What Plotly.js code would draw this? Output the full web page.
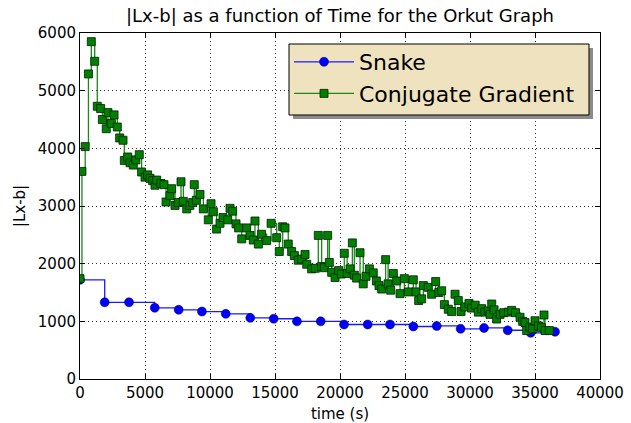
<!DOCTYPE html>
<html>
<head>
<meta charset="utf-8">
<script src="https://cdn.plot.ly/plotly-3.0.1.min.js"></script>
<style>html,body{margin:0;padding:0;background:#fff;}#chart{width:631px;height:423px;}</style>
</head>
<body>
<div id="chart"></div>
<script>
// Snake series
var snakeTime = [0, 1900, 3770, 5750, 7590, 9380, 11210, 13100, 14900, 16690, 18520, 20310, 22130, 23850, 25640, 27440, 29280, 31080, 32900, 34670, 36540];
var snakeErr  = [1720, 1330, 1330, 1235, 1200, 1170, 1130, 1060, 1045, 1000, 1000, 945, 945, 945, 910, 920, 870, 885, 845, 800, 820];

// Conjugate Gradient series
var cgTime = [0, 150, 400, 650, 870, 1130, 1330, 1590, 1720, 2020, 2150, 2410, 2620, 2870, 3050, 3310, 3410, 3670, 3850, 4100,
  4300, 4560, 4740, 5000, 5200, 5380, 5590, 5770, 5900, 6230, 6460, 6620, 6920, 7050, 7310, 7550, 7770, 7950, 8210, 8450,
  8670, 8790, 8950, 9230, 9490, 9870, 10080, 10260, 10510, 10770, 11000, 11360, 11540, 11740, 12000, 12200, 12440, 12820, 13080, 13330,
  13460, 13720, 13970, 14360, 14700, 15130, 15330, 15590, 15770, 16020, 16280, 16490, 16790, 17050, 17310, 17440, 17820, 18100, 18330, 18590,
  18800, 19050, 19180, 19360, 19620, 19900, 20100, 20330, 20550, 20770, 20950, 21100, 21280, 21540, 21790, 22000, 22260, 22560, 22800, 23000,
  23210, 23510, 23700, 23900, 24100, 24360, 24620, 24950, 25260, 25640, 25850, 26050, 26280, 26410, 26790, 27050, 27360, 27600, 27820, 28030,
  28330, 28590, 28850, 29100, 29310, 29600, 29920, 30130, 30400, 30640, 30900, 31150, 31400, 31540, 31670, 31850, 32050, 32310, 32600, 32950,
  33210, 33500, 33850, 34050, 34230, 34360, 34600, 34800, 35000, 35260, 35500, 35690, 35770, 36100];
var cgErr = [1740, 3600, 4030, 5290, 5850, 5510, 4730, 4690, 4500, 4340, 4620, 4430, 4580, 4370, 4180, 4140, 3790, 3850, 3750, 3710,
  3800, 3890, 3590, 3500, 3540, 3480, 3440, 3360, 3450, 3390, 3370, 3070, 3180, 3300, 3010, 3060, 3420, 3080, 2950, 3010,
  3060, 3370, 3100, 3200, 2950, 2760, 3040, 2900, 2600, 2700, 2800, 2760, 2960, 2910, 2690, 2620, 2430, 2620, 2490, 2410,
  2740, 2340, 2510, 2400, 2700, 2450, 2210, 2640, 2620, 2340, 2210, 2140, 2060, 2080, 2160, 1990, 1910, 1920, 2490, 1950,
  1930, 2490, 2020, 1850, 1760, 1880, 1820, 2180, 1830, 1910, 2360, 1800, 1750, 2190, 1650, 1780, 1910, 1840, 1700, 1620,
  1560, 2070, 1650, 1540, 1830, 1700, 1480, 1740, 1510, 1720, 1510, 1360, 1390, 1620, 1590, 1470, 1690, 1500, 1530, 1290,
  1210, 1170, 1470, 1360, 1170, 1250, 1310, 1230, 1280, 1160, 1220, 1160, 1180, 1120, 1300, 1200, 1040, 1120, 1150, 1160,
  1190, 1150, 1070, 1000, 980, 840, 900, 870, 1010, 920, 890, 1110, 840, 840];

var xTicks = [0, 5000, 10000, 15000, 20000, 25000, 30000, 35000, 40000];
var yTicks = [0, 1000, 2000, 3000, 4000, 5000, 6000];

var FONT = 'DejaVu Sans, sans-serif';
var traces = [
  {x: snakeTime, y: snakeErr, name: 'Snake', type: 'scatter', mode: 'lines+markers',
   line: {color: '#1a1aff', width: 1.3, shape: 'hv'},
   marker: {symbol: 'circle', size: 9, color: '#0000ff', line: {color: '#000044', width: 0.5}}},
  {x: cgTime, y: cgErr, name: 'Conjugate Gradient', type: 'scatter', mode: 'lines+markers',
   line: {color: '#1a8a1a', width: 1.3, shape: 'hv'},
   marker: {symbol: 'square', size: 8, color: '#008000', line: {color: '#002000', width: 0.8}}}
];

function px2x(p){ return (p - 80) / 520; }
function py2y(p){ return (379 - p) / 346; }

var axisCommon = {
  showline: true, linecolor: '#000', linewidth: 1, mirror: 'ticks',
  ticks: 'inside', ticklen: 5, tickwidth: 1, tickcolor: '#000',
  showgrid: true, gridcolor: '#333', gridwidth: 1, griddash: '1px,3px',
  zeroline: false, tickfont: {family: FONT, size: 15, color: '#000'}
};

var layout = {
  width: 631, height: 423,
  margin: {l: 80, r: 31, t: 33, b: 44, pad: 0},
  paper_bgcolor: '#fff', plot_bgcolor: '#fff',
  title: {text: '|Lx-b| as a function of Time for the Orkut Graph', font: {family: FONT, size: 18, color: '#000'},
          x: 0.5, xref: 'paper', xanchor: 'center', y: 1, yref: 'container', yanchor: 'top', pad: {t: 9}},
  xaxis: Object.assign({}, axisCommon, {range: [0, 40000], tickvals: xTicks, ticktext: xTicks.map(String),
          title: {text: 'time (s)', font: {family: FONT, size: 15, color: '#000'}, standoff: 8}}),
  yaxis: Object.assign({}, axisCommon, {range: [0, 6000], tickvals: yTicks, ticktext: yTicks.map(String),
          title: {text: '|Lx-b|', font: {family: FONT, size: 15, color: '#000'}, standoff: 8}}),
  showlegend: true,
  legend: {x: px2x(289), y: py2y(41), xanchor: 'left', yanchor: 'top', xref: 'paper', yref: 'paper',
           bgcolor: 'rgba(0,0,0,0)', borderwidth: 0, itemwidth: 60,
           font: {family: FONT, size: 22, color: '#000'}, tracegroupgap: 0},
  shapes: [
    {type: 'rect', xref: 'paper', yref: 'paper', x0: px2x(293), x1: px2x(593), y0: py2y(119), y1: py2y(48),
     fillcolor: '#8c8c8c', line: {width: 0}, layer: 'above'},
    {type: 'rect', xref: 'paper', yref: 'paper', x0: px2x(289), x1: px2x(589), y0: py2y(115), y1: py2y(44),
     fillcolor: '#efe2bf', line: {color: '#000', width: 1}, layer: 'above'}
  ]
};

Plotly.newPlot('chart', traces, layout, {displayModeBar: false, staticPlot: true});
</script>
</body>
</html>
